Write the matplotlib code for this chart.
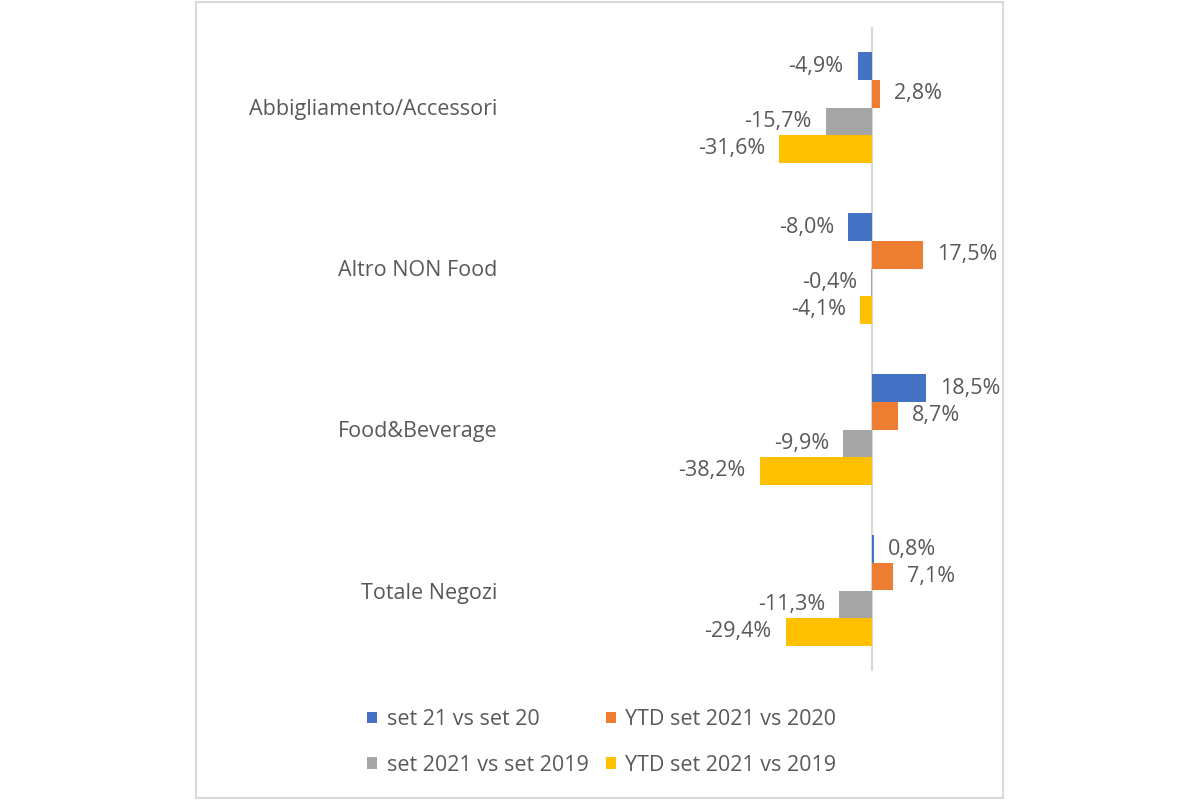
import matplotlib
matplotlib.use("Agg")
import matplotlib.pyplot as plt
from matplotlib.patches import Rectangle, Patch
import numpy as np

categories = ["Abbigliamento/Accessori", "Altro NON Food", "Food&Beverage", "Totale Negozi"]
series_names = ["set 21 vs set 20", "YTD set 2021 vs 2020", "set 2021 vs set 2019", "YTD set 2021 vs 2019"]
set21_vs_set20 = [-4.9, -8.0, 18.5, 0.8]
ytd2021_vs_2020 = [2.8, 17.5, 8.7, 7.1]
set2021_vs_set2019 = [-15.7, -0.4, -9.9, -11.3]
ytd2021_vs_2019 = [-31.6, -4.1, -38.2, -29.4]
colors = ["#4472C4", "#ED7D31", "#A5A5A5", "#FFC000"]

series = [set21_vs_set20, ytd2021_vs_2020, set2021_vs_set2019, ytd2021_vs_2019]

plt.rcParams['font.family'] = ['Open Sans', 'DejaVu Sans']
W, H = 1200, 800
fig = plt.figure(figsize=(12, 8), dpi=100)
fig.patch.set_facecolor("white")

# frame
fig.patches.append(Rectangle((196 / W, 2 / H), (1003 - 196) / W, (798 - 2) / H,
                             transform=fig.transFigure, fill=False,
                             edgecolor="#D9D9D9", linewidth=1.5))

scale = 2.94  # px per percent
x0 = 872
left_px, right_px = 510, 1000
top_px, bot_px = 27, 671
ax = fig.add_axes([left_px / W, 1 - bot_px / H, (right_px - left_px) / W, (bot_px - top_px) / H])
ax.set_xlim(-(x0 - left_px) / scale, (right_px - x0) / scale)
ax.set_ylim(len(categories) - 0.5, -0.5)
ax.set_facecolor("none")

txt_color = "#595959"
fs = 15.5
bh = 0.171
y = np.arange(len(categories))
handles = []
for k, (vals, c) in enumerate(zip(series, colors)):
    bars = ax.barh(y + (k - 1.5) * bh, vals, height=bh, color=c, label=series_names[k])
    ax.bar_label(bars, labels=[f"{v:.1f}%".replace(".", ",") for v in vals],
                 padding=10, fontsize=fs, color=txt_color)
    handles.append(Patch(facecolor=c, edgecolor="none"))

ax.axvline(0, color="#D9D9D9", linewidth=1.5, zorder=0)
for s in ax.spines.values():
    s.set_visible(False)
ax.set_xticks([])
ax.set_yticks(y)
ax.set_yticklabels(categories, fontsize=fs, color=txt_color)
ax.tick_params(axis="y", length=0, pad=9)

order = [0, 2, 1, 3]
fig.legend([handles[i] for i in order], [series_names[i] for i in order], ncol=2, loc="upper left",
           bbox_to_anchor=(348 / W, 1 - 690 / H), frameon=False,
           fontsize=fs, labelcolor=txt_color, handlelength=0.45, handleheight=0.45,
           handletextpad=0.45, columnspacing=0.8, labelspacing=1.14)

fig.savefig("out.png", dpi=100)
